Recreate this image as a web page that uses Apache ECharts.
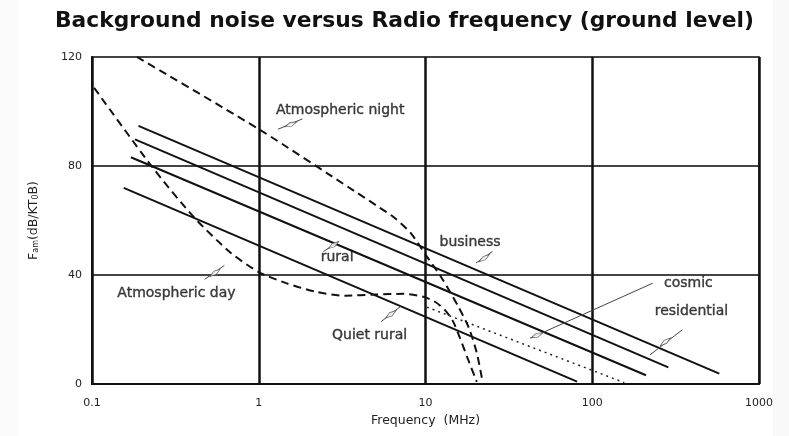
<!DOCTYPE html>
<html><head><meta charset="utf-8">
<script src="https://cdn.jsdelivr.net/npm/echarts@6/dist/echarts.min.js"></script>
<style>html,body{margin:0;padding:0;background:#fff}#c{width:789px;height:436px}</style>
</head><body><div id="c"></div><script>
// ---- data (frequency MHz, Fam dB) ----
const xTickLabels = ['0.1', '1', '10', '100', '1000'];
const yTicks = [0, 40, 80, 120];

const business    = [[0.190, 94.7], [578, 3.8]];
const residential = [[0.181, 89.8], [286, 6.1]];
const rural       = [[0.171, 83.2], [210, 3.2]];
const quietRural  = [[0.155, 72.0], [81.1, 0.9]];
const cosmic      = [[10.2, 28.2], [155.7, 0.5]];
const atmosNight  = [[0.186, 120], [1.014, 93.3], [3.77, 70.7], [5.08, 65.5], [6.48, 61.1],
  [8.16, 55.4], [10.0, 47.5], [12.43, 39.2], [15.67, 28.6], [18.2, 20.6], [20.3, 11.4], [22.0, 0.8]];
const atmosDay    = [[0.103, 108.7], [0.230, 79.6], [0.410, 61.1], [0.678, 48.2], [1.0, 41.1],
  [1.461, 37.0], [2.19, 33.9], [3.29, 32.4], [4.94, 32.8], [7.42, 33.1], [9.73, 32.0],
  [11.46, 30.1], [13.13, 27.0], [14.65, 22.9], [16.11, 16.8], [17.97, 9.1], [20.3, 0.8]];

// ---- annotations ----
const annoNames  = ['Atmospheric night', 'Atmospheric day', 'rural', 'Quiet rural', 'business', 'cosmic', 'residential'];
const annoPos    = [[3.08, 100.4], [0.321, 33.1], [2.95, 46.4], [4.62, 17.9], [18.5, 52.1], [377, 37.0], [393.5, 26.7]];
const pointerA   = [[1.306, 93.5], [0.473, 38.4], [2.44, 48.6], [5.42, 22.9], [20.1, 44.4], [42.4, 16.8], [222.3, 10.7]];
const pointerB   = [[1.83, 97.3], [0.622, 43.5], [2.99, 52.1], [7.1, 28.5], [25.2, 48.6], [230.7, 37.0], [346.7, 19.9]];
const markerPos  = [[1.56, 95.3], [0.546, 40.8], [2.81, 51.0], [6.2, 25.6], [22.5, 46.2], [46.7, 17.9], [275, 15.5]];
const markerRot  = [23, 36, 34, 36, 35, 23, 37];

const FONT = 'DejaVu Sans';
const chart = echarts.init(document.getElementById('c'), null, {renderer: 'canvas'});

const solid = (name, data) => ({
  name, type: 'line', data, symbol: 'none', silent: true, z: 3,
  lineStyle: {color: '#111', width: 2}
});
const dashed = (name, data) => ({
  name, type: 'line', data, symbol: 'none', silent: true, z: 3, smooth: 0.25,
  lineStyle: {color: '#111', width: 2, type: [8, 5]}
});

chart.setOption({
  backgroundColor: '#fff',
  animation: false,
  title: {
    text: 'Background noise versus Radio frequency (ground level)',
    left: 50, top: 5,
    textStyle: {fontFamily: FONT, fontWeight: 'bold', fontSize: 21.8, color: '#111'}
  },
  graphic: [
    {type: 'rect', shape: {x: 773, y: 0, width: 16, height: 436}, style: {fill: '#f9f9f9'}, silent: true},
    {type: 'rect', shape: {x: 0, y: 0, width: 18, height: 436}, style: {fill: '#fbfbfb'}, silent: true}
  ],
  grid: {left: 92, right: 30, top: 57, bottom: 52, show: true, borderColor: '#666', borderWidth: 2},
  xAxis: {
    type: 'log', logBase: 10, min: 0.1, max: 1000,
    name: 'Frequency  (MHz)', nameLocation: 'middle', nameGap: 27,
    nameTextStyle: {fontFamily: FONT, fontSize: 12.5, color: '#222'},
    axisLine: {show: true, lineStyle: {color: '#111', width: 2}},
    axisTick: {show: false},
    axisLabel: {
      margin: 14, fontFamily: FONT, fontSize: 11, color: '#222',
      formatter: v => { const i = Math.round(Math.log10(v)) + 1; return xTickLabels[i] ?? ''; }
    },
    splitLine: {show: true, lineStyle: {color: '#111', width: 2.5}},
    minorTick: {show: false}
  },
  yAxis: {
    type: 'value', min: yTicks[0], max: yTicks[yTicks.length - 1], interval: 40,
    name: '{a|F}{s|am}{a|(dB/KT}{s|0}{a|B)}', nameLocation: 'middle', nameGap: 52, nameRotate: 90,
    nameTextStyle: {
      color: '#222',
      rich: {
        a: {fontFamily: FONT, fontSize: 12.5, color: '#222'},
        s: {fontFamily: FONT, fontSize: 8, color: '#222', verticalAlign: 'bottom', padding: [5, 0, 0, 0]}
      }
    },
    axisLine: {show: true, lineStyle: {color: '#111', width: 2}},
    axisTick: {show: false},
    axisLabel: {margin: 10, fontFamily: FONT, fontSize: 11, color: '#222'},
    splitLine: {show: true, lineStyle: {color: '#444', width: 2}}
  },
  series: [
    solid('business', business),
    solid('residential', residential),
    solid('rural', rural),
    solid('Quiet rural', quietRural),
    {
      name: 'cosmic', type: 'line', data: cosmic, symbol: 'none', silent: true, z: 3,
      lineStyle: {color: '#222', width: 1.5, type: [2, 4]}
    },
    dashed('Atmospheric night', atmosNight),
    dashed('Atmospheric day', atmosDay),
    {
      name: 'pointers', type: 'lines', coordinateSystem: 'cartesian2d', silent: true, z: 4,
      lineStyle: {color: '#444', width: 1, opacity: 1},
      data: pointerA.map((a, i) => ({coords: [a, pointerB[i]]}))
    },
    {
      name: 'markers', type: 'scatter', silent: true, z: 5, symbol: 'diamond',
      symbolSize: [13, 4],
      itemStyle: {color: '#fff', borderColor: '#444', borderWidth: 1},
      data: markerPos.map((p, i) => ({value: p, symbolRotate: markerRot[i]}))
    },
    {
      name: 'labels', type: 'scatter', silent: true, z: 6, symbolSize: 0,
      label: {
        show: true, position: 'inside', fontFamily: FONT, fontSize: 14, color: '#111',
        textBorderColor: '#111', textBorderWidth: 0.4,
        formatter: p => p.name
      },
      data: annoNames.map((n, i) => ({name: n, value: annoPos[i]}))
    }
  ]
});
</script></body></html>
